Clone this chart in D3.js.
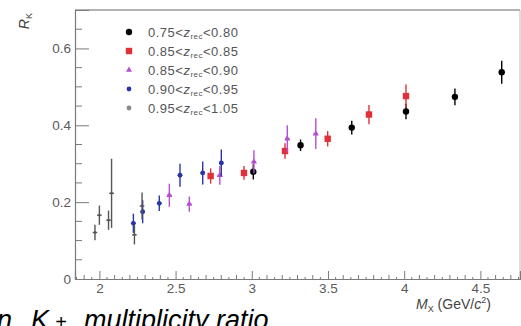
<!DOCTYPE html>
<html>
<head>
<meta charset="utf-8">
<script src="https://cdn.jsdelivr.net/npm/d3@7"></script>
<style>
  html, body { margin: 0; padding: 0; background: #fff; overflow: hidden; }
  svg { display: block; }
  text { font-family: "Liberation Sans", Arial, sans-serif; }
</style>
</head>
<body>
<svg id="chart" width="521" height="326"></svg>
<script>
// Ratio R_K versus missing mass M_X, one series per z_rec bin
const seriesNames = ["0.75", "0.85", "0.85", "0.90", "0.95"];
const seriesUpper = ["0.80", "0.85", "0.90", "0.95", "1.05"];
const seriesColors = ["#000000", "#e0303a", "#b64fd0", "#2a35a8", "#555555"];
const seriesShapes = ["circle", "square", "triangle", "dot", "none"];

// M_X (GeV/c^2)
const mx0 = [3.01, 3.32, 3.656, 4.012, 4.333, 4.64];
const mx1 = [2.73, 2.949, 3.218, 3.498, 3.769, 4.012];
const mx2 = [2.459, 2.59, 2.79, 3.014, 3.233, 3.42];
const mx3 = [2.223, 2.284, 2.393, 2.529, 2.678, 2.8];
const mx4 = [1.971, 2.0, 2.06, 2.08, 2.23, 2.28];

// R_K
const rk0 = [0.279, 0.348, 0.394, 0.436, 0.474, 0.538];
const rk1 = [0.268, 0.276, 0.333, 0.365, 0.428, 0.476];
const rk2 = [0.218, 0.195, 0.270, 0.305, 0.365, 0.378];
const rk3 = [0.145, 0.175, 0.197, 0.270, 0.276, 0.302];
const rk4 = [0.121, 0.166, 0.153, 0.223, 0.115, 0.190];

// statistical uncertainty on R_K
const err0 = [0.020, 0.015, 0.018, 0.020, 0.022, 0.030];
const err1 = [0.020, 0.018, 0.020, 0.020, 0.025, 0.030];
const err2 = [0.030, 0.020, 0.025, 0.030, 0.035, 0.040];
const err3 = [0.025, 0.030, 0.020, 0.030, 0.030, 0.035];
const err4 = [0.020, 0.025, 0.025, 0.090, 0.025, 0.035];

const xTicks = [2, 2.5, 3, 3.5, 4, 4.5];
const yTicks = [0, 0.2, 0.4, 0.6];

const mxAll = [mx0, mx1, mx2, mx3, mx4];
const rkAll = [rk0, rk1, rk2, rk3, rk4];
const errAll = [err0, err1, err2, err3, err4];

const svg = d3.select("#chart");
const plotL = 75, plotR = 520, plotT = 10, plotB = 279;

const x = d3.scaleLinear().domain([1.84, 4.76]).range([plotL, plotR]);
const y = d3.scaleLinear().domain([0, 0.7]).range([plotB, plotT]);

const axisColor = "#7a7a7a";
const labelColor = "#5a5a5a";

// frame
svg.append("line").attr("x1", plotL).attr("x2", plotR).attr("y1", plotT).attr("y2", plotT)
  .attr("stroke", "#9a9a9a").attr("stroke-width", 1.6);
svg.append("line").attr("x1", plotR).attr("x2", plotR).attr("y1", plotT).attr("y2", plotB)
  .attr("stroke", "#bbb").attr("stroke-width", 1);

// x axis with major ticks inward, minor every 0.1 and 0.05
const xAxis = d3.axisBottom(x).tickValues(xTicks).tickSize(-8).tickFormat(d3.format("")).tickPadding(4);
const gx = svg.append("g").attr("transform", `translate(0,${plotB})`).call(xAxis);
gx.select(".domain").attr("stroke", axisColor).attr("stroke-width", 1.2);
gx.selectAll(".tick line").attr("stroke", axisColor).attr("stroke-width", 1);
gx.selectAll(".tick text").attr("fill", labelColor).attr("font-size", 13.5);
const xMinor = d3.range(1.85, 4.76, 0.05).filter(v => !xTicks.some(t => Math.abs(t - v) < 1e-6));
svg.append("g").selectAll("line").data(xMinor).join("line")
  .attr("x1", d => x(d)).attr("x2", d => x(d))
  .attr("y1", plotB)
  .attr("y2", d => plotB - (Math.abs(Math.round(d * 10) - d * 10) < 1e-6 ? 4 : 2))
  .attr("stroke", axisColor).attr("stroke-width", 1);

// y axis with major ticks inward, minor every 0.05
const yAxis = d3.axisLeft(y).tickValues(yTicks).tickSize(-14).tickFormat(d => d === 0 ? "0" : d3.format(".1f")(d)).tickPadding(4);
const gy = svg.append("g").attr("transform", `translate(${plotL},0)`).call(yAxis);
gy.select(".domain").attr("stroke", axisColor).attr("stroke-width", 1.2);
gy.selectAll(".tick line").attr("stroke", axisColor).attr("stroke-width", 1);
gy.selectAll(".tick text").attr("fill", labelColor).attr("font-size", 13.5);
const yMinor = d3.range(0.05, 0.7, 0.05).filter(v => !yTicks.some(t => Math.abs(t - v) < 1e-6));
svg.append("g").selectAll("line").data(yMinor).join("line")
  .attr("x1", plotL).attr("x2", plotL + 7)
  .attr("y1", d => y(d)).attr("y2", d => y(d))
  .attr("stroke", axisColor).attr("stroke-width", 1);

// axis titles
const yt = svg.append("text").attr("transform", "translate(29,13) rotate(-90)")
  .attr("text-anchor", "end").attr("fill", "#444").attr("font-size", 14);
yt.append("tspan").attr("font-style", "italic").text("R");
yt.append("tspan").attr("font-size", 9).attr("dy", 3).text("K");

const xt = svg.append("text").attr("x", 416).attr("y", 309).attr("fill", "#444").attr("font-size", 14);
xt.append("tspan").attr("font-style", "italic").text("M");
xt.append("tspan").attr("font-size", 9).attr("dy", 3).text("X");
xt.append("tspan").attr("dy", -3).text(" (GeV/");
xt.append("tspan").attr("font-style", "italic").text("c");
xt.append("tspan").attr("font-size", 9).attr("dy", -6).text("2");
xt.append("tspan").attr("dy", 6).text(")");

// marker drawing
function marker(g, shape, color, cx, cy) {
  if (shape === "circle") {
    g.append("circle").attr("cx", cx).attr("cy", cy).attr("r", 3.2).attr("fill", color);
  } else if (shape === "square") {
    g.append("rect").attr("x", cx - 3.2).attr("y", cy - 3.2).attr("width", 6.4).attr("height", 6.4).attr("fill", color);
  } else if (shape === "triangle") {
    g.append("path").attr("d", d3.symbol(d3.symbolTriangle, 16)()).attr("transform", `translate(${cx},${cy})`).attr("fill", color);
  } else if (shape === "dot") {
    g.append("circle").attr("cx", cx).attr("cy", cy).attr("r", 2.4).attr("fill", color);
  } else {
    g.append("circle").attr("cx", cx).attr("cy", cy).attr("r", 1.2).attr("fill", color);
  }
}

// data points with error bars
mxAll.forEach((mxs, s) => {
  const color = seriesColors[s];
  const g = svg.append("g");
  mxs.forEach((mx, i) => {
    const v = rkAll[s][i], e = errAll[s][i];
    g.append("line").attr("x1", x(mx)).attr("x2", x(mx)).attr("y1", y(v - e)).attr("y2", y(v + e))
      .attr("stroke", color).attr("stroke-width", 1.4);
    g.append("line").attr("x1", x(mx - 0.015)).attr("x2", x(mx + 0.015)).attr("y1", y(v)).attr("y2", y(v))
      .attr("stroke", color).attr("stroke-width", 1.4);
    marker(g, seriesShapes[s], color, x(mx), y(v));
  });
});

// legend
const legend = svg.append("g");
seriesNames.forEach((lo, s) => {
  const ly = 32 + s * 19;
  marker(legend, seriesShapes[s] === "none" ? "dot" : seriesShapes[s],
    seriesShapes[s] === "none" ? "#888" : seriesColors[s], 129, ly);
  const t = legend.append("text").attr("x", 148).attr("y", ly + 5).attr("fill", "#555")
    .attr("font-size", 13).attr("letter-spacing", 0.5);
  t.append("tspan").text(lo + "<");
  t.append("tspan").attr("font-style", "italic").text("z");
  t.append("tspan").attr("font-size", 8).attr("dy", 2).text("rec");
  t.append("tspan").attr("dy", -2).text("<" + seriesUpper[s]);
});

// caption line below the plot
const cap = svg.append("text").attr("y", 329)
  .attr("font-family", "Liberation Serif, serif").attr("font-style", "italic")
  .attr("font-size", 27).attr("fill", "#000");
cap.append("tspan").attr("x", -3).text("n");
cap.append("tspan").attr("x", 31).text("K");
cap.append("tspan").attr("x", 55).attr("font-size", 20).text("+");
cap.append("tspan").attr("x", 84).text("multiplicity ratio");
</script>
</body>
</html>
